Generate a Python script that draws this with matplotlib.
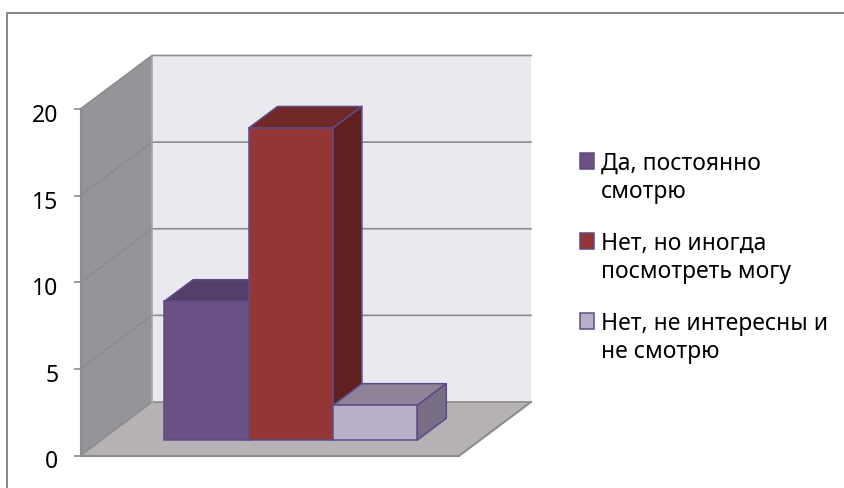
#!/usr/bin/env python3

import numpy as np
import matplotlib
matplotlib.use('Agg')
import matplotlib.pyplot as plt
from matplotlib.legend_handler import HandlerPatch
from matplotlib.lines import Line2D
from matplotlib.patches import Patch, Rectangle
from matplotlib.transforms import Affine2D

plt.rcParams['font.family'] = ['Noto Sans', 'DejaVu Sans']

# Data
labels = ['Да, постоянно\nсмотрю', 'Нет, но иногда\nпосмотреть могу', 'Нет, не интересны и\nне смотрю']
values = [8, 18, 2]
yTicks = [0, 5, 10, 15, 20]

# Colours
frontColors = ['#6B5086', '#943635', '#BAAFC9']
topColors = ['#533F6A', '#712928', '#8E8399']
sideColors = ['#45335A', '#612020', '#786E85']
edgeColor = '#5F4A88'
gridColor = '#8C8C8C'

W, H = 845, 489
fig = plt.figure(figsize=(W/100, H/100), dpi=100)
ax = fig.add_axes([80.5/W, (H-456.5)/H, 379/W, 346.5/H])

xStart, xStop = -1.245, 3.245
yStart, yStop = 0, 20
ax.set_xlim([xStart, xStop])
ax.set_ylim([yStart, yStop])

# Oblique projection: depth 0 is the front plane, depth 1 the back wall
pxX = 379/(xStop-xStart)
pxY = 346.5/(yStop-yStart)
depX = 71.5/pxX
depY = 53.5/pxY


def proj(x, y, d):
    return (x+d*depX, y+d*depY)


def face(pts, color, zorder, edge='none', lw=0):
    xy = [proj(*p) for p in pts]
    ax.fill([q[0] for q in xy], [q[1] for q in xy], facecolor=color,
            edgecolor=edge, linewidth=lw, zorder=zorder, clip_on=False,
            joinstyle='round')


# Legend swatch sits beside the first line of its label
def swatch(legend, orig_handle, xdescent, ydescent, width, height, fontsize):
    return Rectangle((-xdescent, -ydescent+12.2), width, height)


# Walls and floor
face([(xStart, 0, 1), (xStop, 0, 1), (xStop, yStop, 1), (xStart, yStop, 1)], '#EBE9F0', 1)
face([(xStart, 0, 0), (xStart, 0, 1), (xStart, yStop, 1), (xStart, yStop, 0)], '#969498', 1)
face([(xStart, 0, 0), (xStop, 0, 0), (xStop, 0, 1), (xStart, 0, 1)], '#B5B1B4', 1)

# Gridlines on both walls
for t in yTicks:
    xs, ys = zip(proj(xStart, t, 0), proj(xStart, t, 1), proj(xStop, t, 1))
    ax.plot(xs, ys, color=gridColor, linewidth=1.2, zorder=2, clip_on=False)
xs, ys = zip(proj(xStart, 0, 1), proj(xStart, yStop, 1))
ax.plot(xs, ys, color='#A8A8A8', linewidth=1.2, zorder=2, clip_on=False)
xs, ys = zip(proj(xStop, 0, 0), proj(xStop, 0, 1))
ax.plot(xs, ys, color=gridColor, linewidth=1.5, zorder=2, clip_on=False)

# Bars, left to right so that each one covers the one before
d0 = 0.29
d1 = 0.695
for i, v in enumerate(values):
    xl = i-0.5
    xr = i+0.5
    z = 3+i
    face([(xl, v, d0), (xr, v, d0), (xr, v, d1), (xl, v, d1)], topColors[i], z, edgeColor, 1.1)
    face([(xr, 0, d0), (xr, 0, d1), (xr, v, d1), (xr, v, d0)], sideColors[i], z, edgeColor, 1.1)
    ax.bar(i+d0*depX, v, width=1, bottom=d0*depY, color=frontColors[i],
           edgecolor=edgeColor, linewidth=1.1, zorder=z+0.5, clip_on=False)

# Axis
ax.set_xticks([])
ax.set_yticks(yTicks)
ax.tick_params(axis='y', length=5, width=1.2, color=gridColor, pad=11, labelsize=16.5)
for lab in ax.get_yticklabels():
    lab.set_transform(lab.get_transform()+Affine2D().translate(0, -3))
for s in ['top', 'right']:
    ax.spines[s].set_visible(False)
for s in ['left', 'bottom']:
    ax.spines[s].set_color(gridColor)
    ax.spines[s].set_linewidth(1.5)
    ax.spines[s].set_zorder(2.5)
ax.patch.set_visible(False)

# Legend
handles = [Patch(facecolor=c, edgecolor=edgeColor, linewidth=1.1) for c in frontColors]
leg = fig.legend(handles, labels, loc='upper left', bbox_to_anchor=(580/W, 1-152/H),
                 bbox_transform=fig.transFigure, frameon=False, fontsize=16.5,
                 handlelength=0.62, handleheight=0.68, handletextpad=0.3,
                 labelspacing=1.2, borderpad=0, borderaxespad=0,
                 handler_map={Patch: HandlerPatch(patch_func=swatch)})
for t in leg.get_texts():
    t.set_linespacing(1.25)

# Outer chart frame, cut by the edge of the picture
fig.add_artist(Line2D([7.5/W, 7.5/W, 1], [0, 1-14/H, 1-14/H], color='#868686', linewidth=1.4))

fig.savefig('out.png', dpi=100)
plt.close()
